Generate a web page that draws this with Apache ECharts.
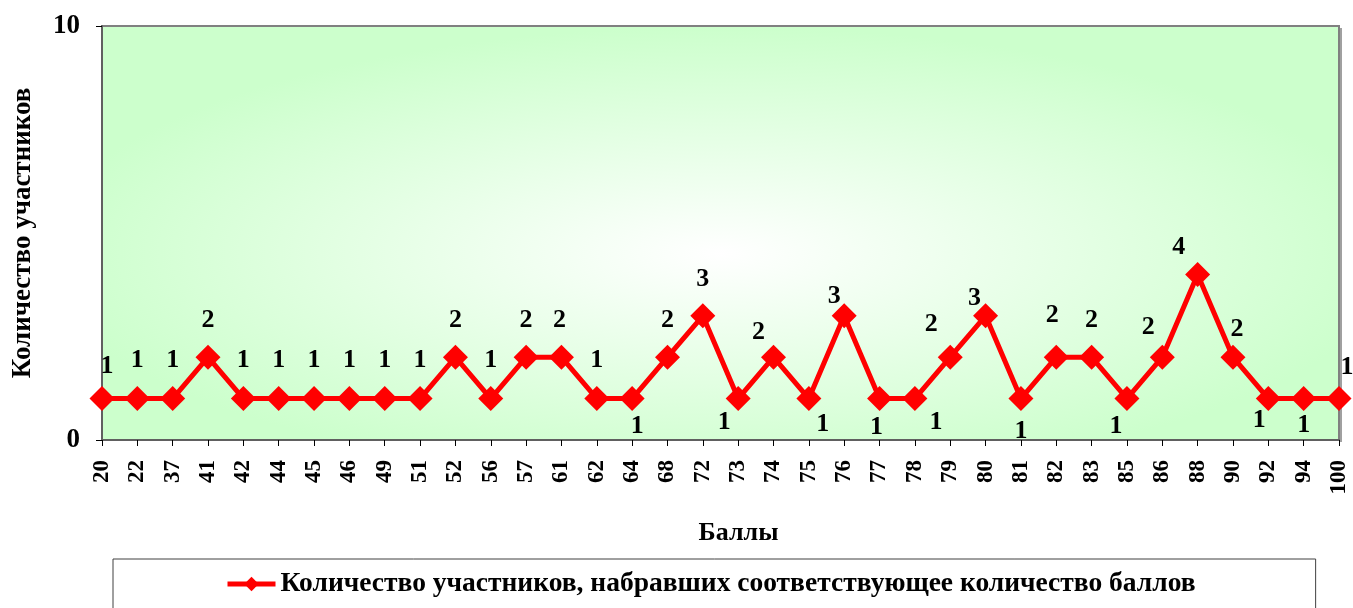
<!DOCTYPE html>
<html>
<head>
<meta charset="utf-8">
<script src="https://cdn.jsdelivr.net/npm/echarts@6/dist/echarts.min.js"></script>
<style>html,body{margin:0;padding:0;background:#fff;}#c{width:1353px;height:608px;}</style>
</head>
<body>
<div id="c"></div>
<script>
var categories = ['20','22','37','41','42','44','45','46','49','51','52','56','57','61','62','64','68','72','73','74','75','76','77','78','79','80','81','82','83','85','86','88','90','92','94','100'];
var participants = [1,1,1,2,1,1,1,1,1,1,2,1,2,2,1,1,2,3,1,2,1,3,1,1,2,3,1,2,2,1,2,4,2,1,1,1];
var yTicks = [0, 10];
var seriesName = 'Количество участников, набравших соответствующее количество баллов';

// label placement (layout only)
var labelOffsets = [
  [5,-32],[0,-38],[0,-38],[0,-37],[0,-38],[0,-38],[0,-38],[0,-38],[0,-38],[0,-38],
  [0,-37],[0,-38],[0,-37],[-2,-37],[0,-38],[5,28],[0,-37],[0,-37],[-14,24],[-15,-25],
  [14,26],[-10,-20],[-3,29],[21,24],[-19,-33],[-11,-18],[0,33],[-4,-42],[0,-37],[-11,28],
  [-14,-30],[-19,-27],[4,-28],[-9,22],[0,27],[8,-31]
];

var FONT = 'Liberation Serif';
var plot = {left:102, top:26, right:1339, bottom:440};
var pw = plot.right - plot.left, ph = plot.bottom - plot.top, k = 3;

var chart = echarts.init(document.getElementById('c'), null, {renderer:'canvas'});
chart.setOption({
  animation:false,
  backgroundColor:'#ffffff',
  graphic:[{
    type:'rect', silent:true, z:-10,
    x:plot.left, y:plot.top, scaleX:k,
    shape:{x:0, y:0, width:pw/k, height:ph},
    style:{fill:new echarts.graphic.RadialGradient(0.5,0.55,0.55,[
      {offset:0,color:'#FFFFFF'},{offset:1,color:'#CCFFCC'}])}
  },{
    type:'rect', silent:true, z:-11,
    x:plot.right, y:plot.top + 2,
    shape:{x:0, y:0, width:3, height:ph},
    style:{fill:'#A0A0A0'}
  }],
  grid:{left:plot.left, top:plot.top, right:1353-plot.right, bottom:608-plot.bottom,
    outerBoundsMode:'none', containLabel:false,
    show:true, backgroundColor:'transparent', borderColor:'#808080', borderWidth:2},
  legend:{
    data:[seriesName], left:113, top:559,
    padding:[11,120,30,112], borderColor:'#404040', borderWidth:1,
    itemWidth:48, itemHeight:18, itemGap:0,
    lineStyle:{width:5},
    textStyle:{fontFamily:FONT, fontWeight:'bold', fontSize:27.5, color:'#000'}
  },
  xAxis:{
    type:'category', data:categories, boundaryGap:false,
    name:'Баллы', nameLocation:'middle', nameGap:80,
    nameTextStyle:{fontFamily:FONT, fontWeight:'bold', fontSize:26, color:'#000', padding:[0,0,0,36]},
    axisLine:{lineStyle:{color:'#606060', width:2}},
    axisTick:{length:6, lineStyle:{color:'#000'}},
    axisLabel:{interval:0, rotate:90, margin:20, fontFamily:FONT, fontWeight:'bold', fontSize:23, color:'#000'},
    splitLine:{show:false}
  },
  yAxis:{
    type:'value', min:yTicks[0], max:yTicks[1], interval:yTicks[1]-yTicks[0],
    name:'Количество участников', nameLocation:'middle', nameGap:65, nameRotate:90,
    nameTextStyle:{fontFamily:FONT, fontWeight:'bold', fontSize:27, color:'#000'},
    axisLine:{show:true, lineStyle:{color:'#606060', width:2}},
    axisTick:{show:true, length:6, lineStyle:{color:'#000'}},
    axisLabel:{margin:22, fontFamily:FONT, fontWeight:'bold', fontSize:27, color:'#000'},
    splitLine:{show:false}
  },
  series:[{
    name:seriesName, type:'line',
    data:participants.map(function(v,i){
      return {value:v, label:{offset:labelOffsets[i]}};
    }),
    color:'#FF0000',
    lineStyle:{color:'#FF0000', width:5},
    itemStyle:{color:'#FF0000'},
    symbol:'diamond', symbolSize:25,
    label:{show:true, position:'inside', fontFamily:FONT, fontWeight:'bold', fontSize:26, color:'#000'}
  }]
});
</script>
</body>
</html>
